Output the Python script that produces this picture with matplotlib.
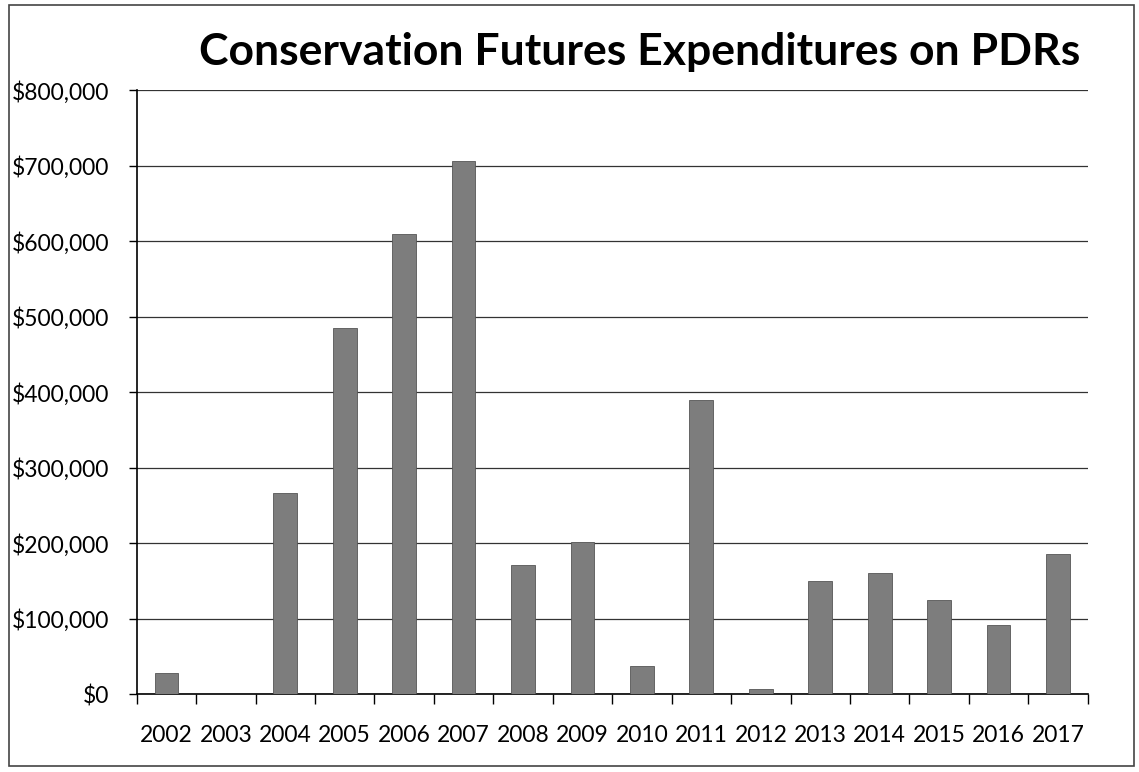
import matplotlib
matplotlib.use("Agg")
import matplotlib.pyplot as plt
from matplotlib.patches import Rectangle
from matplotlib.ticker import FuncFormatter, FixedLocator

years = [2002, 2003, 2004, 2005, 2006, 2007, 2008, 2009,
         2010, 2011, 2012, 2013, 2014, 2015, 2016, 2017]
spending = [28000, 0, 266000, 485000, 610000, 707000, 171000, 201000,
            37000, 390000, 7000, 150000, 161000, 124000, 92000, 185000]
title = "Conservation Futures Expenditures on PDRs"

plt.rcParams["font.family"] = ["Lato", "DejaVu Sans"]

fig = plt.figure(figsize=(11.39, 7.72), dpi=100)
ax = fig.add_axes([0.120, 0.101, 0.835, 0.782])

x = list(range(len(years)))
ax.bar(x, spending, width=0.4, color="#7d7d7d", edgecolor="#555555",
       linewidth=0.6, zorder=3)

ax.set_xlim(-0.5, len(years) - 0.5)
ax.set_ylim(0, 800000)
ax.set_yticks(range(0, 800001, 100000))
ax.yaxis.set_major_formatter(FuncFormatter(lambda v, _: f"${v:,.0f}"))
ax.grid(axis="y", color="#333333", linewidth=0.9, zorder=0)

ax.set_xticks(x)
ax.set_xticklabels([str(y) for y in years])
ax.xaxis.set_minor_locator(FixedLocator([i - 0.5 for i in range(len(years) + 1)]))
ax.tick_params(axis="x", which="major", length=0, pad=22, labelsize=16.5)
ax.tick_params(axis="x", which="minor", length=7, width=1, direction="out")
ax.tick_params(axis="y", length=6, width=1, pad=14, labelsize=16.5)

for side in ["top", "right"]:
    ax.spines[side].set_visible(False)
for side in ["left", "bottom"]:
    ax.spines[side].set_color("black")
    ax.spines[side].set_linewidth(1.2)

fig.text(0.562, 0.933, title, ha="center", va="center",
         fontsize=32, fontweight="bold")

fig.patches.append(Rectangle((0.008, 0.008), 0.988, 0.985, transform=fig.transFigure,
                             fill=False, edgecolor="#444444", linewidth=1.2))

fig.savefig("out.png", dpi=100, facecolor="white")
